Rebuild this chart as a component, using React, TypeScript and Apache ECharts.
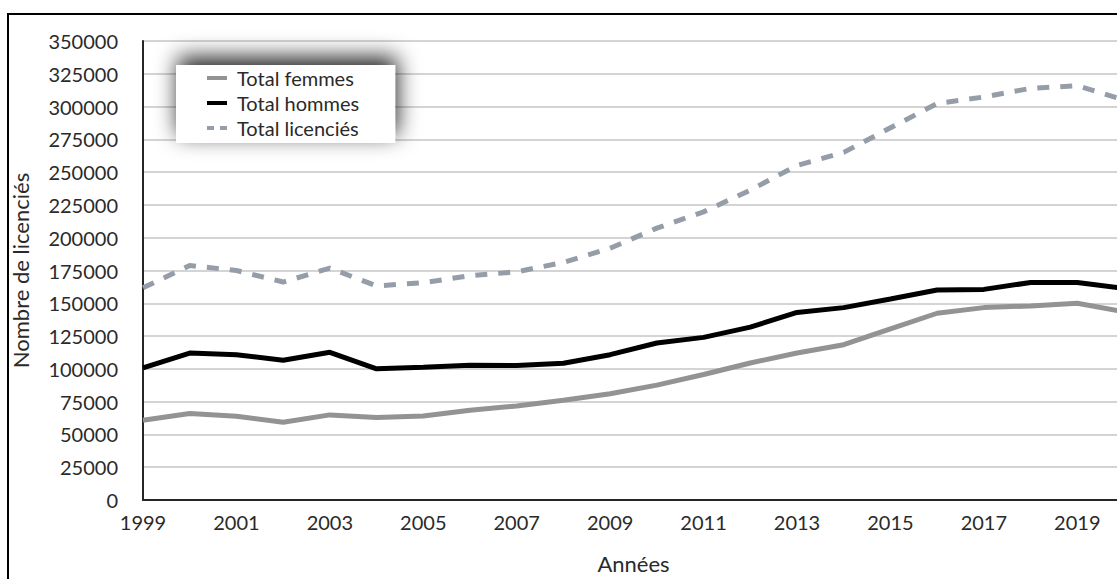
import React, { useEffect, useRef } from "react";
import * as echarts from "echarts";

const years = [
  "1999", "2000", "2001", "2002", "2003", "2004", "2005", "2006", "2007", "2008", "2009",
  "2010", "2011", "2012", "2013", "2014", "2015", "2016", "2017", "2018", "2019", "2020",
];

const totalFemmes = [
  60800, 65900, 63900, 59300, 64900, 62900, 64100, 68400, 71700, 76000, 81000,
  87600, 95700, 104500, 112100, 118400, 130500, 142400, 146700, 148000, 150000, 143500,
];

const totalHommes = [
  100700, 112000, 110800, 106500, 112600, 100000, 101300, 102800, 102500, 104300, 110800,
  119700, 124000, 131800, 143000, 146700, 153300, 160100, 160600, 165900, 165900, 161400,
];

const totalLicencies = [
  161800, 178800, 175000, 166200, 176800, 163200, 165700, 171000, 174000, 181200, 192000,
  207300, 219700, 236300, 255100, 265100, 283800, 302300, 307300, 313900, 315900, 305000,
];

const seriesNames = ["Total femmes", "Total hommes", "Total licenciés"];
const FONT = "Lato";
const WEIGHT = 400;
const TEXT_COLOR = "#2a2a2a";
const SOLID_ICON = "path://M0,0h20v4h-20z";
const DASH_ICON = "path://M0,0h7v4h-7z M13,0h7v4h-7z";

export default function App() {
  const ref = useRef<HTMLDivElement | null>(null);

  useEffect(() => {
    if (!ref.current) return;
    const chart = echarts.init(ref.current, null, { renderer: "svg" });
    chart.setOption({
      animation: false,
      backgroundColor: "#ffffff",
      textStyle: { fontFamily: FONT },
      grid: { left: 143, right: 36, top: 41, bottom: 76, containLabel: false },
      legend: {
        orient: "vertical",
        left: 176,
        top: 65,
        padding: [3, 36, 5, 31],
        itemWidth: 20,
        itemHeight: 14,
        itemGap: 5,
        symbolKeepAspect: true,
        backgroundColor: "#ffffff",
        shadowColor: "rgba(0,0,0,0.85)",
        shadowBlur: 22,
        shadowOffsetX: 2,
        shadowOffsetY: -8,
        textStyle: {
          fontFamily: FONT,
          fontWeight: WEIGHT,
          fontSize: 20,
          color: TEXT_COLOR,
          lineHeight: 20,
          padding: [0, 0, 0, 5],
        },
        data: [
          { name: seriesNames[0], icon: SOLID_ICON, itemStyle: { color: "#939393" } },
          { name: seriesNames[1], icon: SOLID_ICON, itemStyle: { color: "#000000" } },
          { name: seriesNames[2], icon: DASH_ICON, itemStyle: { color: "#959ea8" } },
        ],
      },
      xAxis: {
        type: "category",
        data: years,
        boundaryGap: false,
        name: "Années",
        nameLocation: "middle",
        nameGap: 52,
        nameTextStyle: { fontFamily: FONT, fontWeight: WEIGHT, fontSize: 22, color: TEXT_COLOR },
        axisLine: { show: true, lineStyle: { color: "#262626", width: 2 } },
        axisTick: { show: false },
        axisLabel: {
          interval: 1,
          margin: 12,
          fontFamily: FONT,
          fontWeight: WEIGHT,
          fontSize: 20,
          color: TEXT_COLOR,
        },
        splitLine: { show: false },
      },
      yAxis: {
        type: "value",
        min: 0,
        max: 350000,
        interval: 25000,
        name: "Nombre de licenciés",
        nameLocation: "middle",
        nameGap: 112,
        nameTextStyle: { fontFamily: FONT, fontWeight: WEIGHT, fontSize: 22, color: TEXT_COLOR },
        axisLine: { show: true, lineStyle: { color: "#262626", width: 2 } },
        axisTick: { show: false },
        axisLabel: {
          margin: 25,
          fontFamily: FONT,
          fontWeight: WEIGHT,
          fontSize: 20,
          color: TEXT_COLOR,
          formatter: (v: number) => String(v),
        },
        splitLine: { show: true, lineStyle: { color: "#c6c6c6", width: 1.5 } },
      },
      graphic: [
        {
          type: "rect",
          z: 100,
          silent: true,
          shape: { x: 8, y: 14, width: 1300, height: 700 },
          style: { fill: "none", stroke: "#000000", lineWidth: 2 },
        },
      ],
      series: [
        {
          name: seriesNames[0],
          type: "line",
          data: totalFemmes,
          symbol: "none",
          lineStyle: { color: "#939393", width: 5 },
          itemStyle: { color: "#939393" },
        },
        {
          name: seriesNames[1],
          type: "line",
          data: totalHommes,
          symbol: "none",
          lineStyle: { color: "#000000", width: 5 },
          itemStyle: { color: "#000000" },
        },
        {
          name: seriesNames[2],
          type: "line",
          data: totalLicencies,
          symbol: "none",
          lineStyle: { color: "#959ea8", width: 5, type: [12, 11] },
          itemStyle: { color: "#959ea8" },
        },
      ],
    });
    return () => chart.dispose();
  }, []);

  return (
    <div
      style={{
        position: "fixed",
        left: 0,
        top: 0,
        width: 1117,
        height: 579,
        overflow: "hidden",
        background: "#ffffff",
      }}
    >
      <div ref={ref} style={{ width: 1160, height: 579 }} />
    </div>
  );
}
